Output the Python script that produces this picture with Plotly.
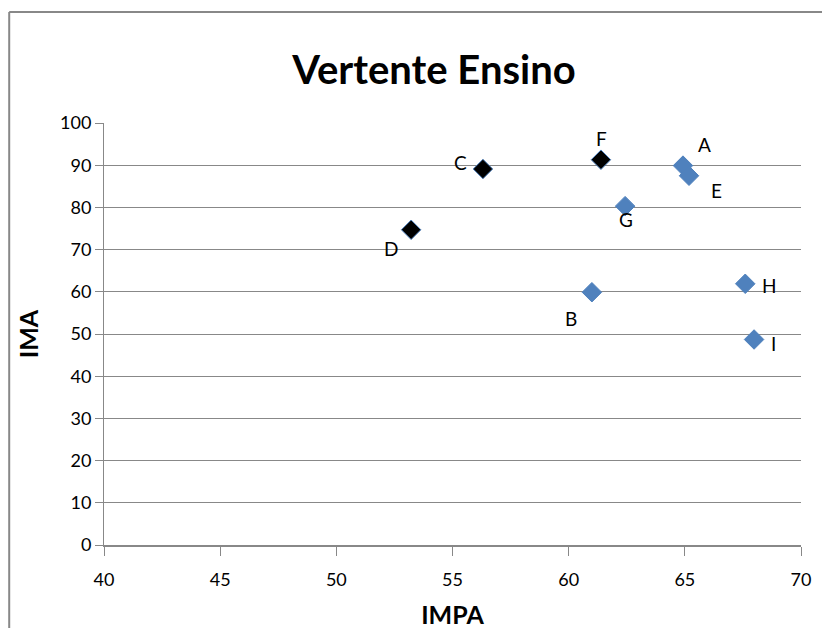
import plotly.graph_objects as go

names = ["A", "B", "C", "D", "E", "F", "G", "H", "I"]
impa = [64.92, 61.0, 56.31, 53.22, 65.18, 61.39, 62.43, 67.6, 67.98]
ima = [89.9, 59.9, 89.1, 74.7, 87.5, 91.3, 80.3, 61.9, 48.7]
highlight = [False, False, True, True, False, True, False, False, False]

# label pixel offsets (style): right, down
label_dx = [22, -21, -22, -20, 27, 1, 1, 24, 19]
label_dy = [-21, 26, -7, 19, 15, -21, 13, 2, 4]

blue = "#4F81BD"
colors = ["#000000" if h else blue for h in highlight]
FONT = "Lato, Open Sans"
tick_font = dict(family=FONT, size=18, color="#000000")

fig = go.Figure()
fig.add_trace(go.Scatter(
    x=impa, y=ima, mode="markers",
    marker=dict(symbol="diamond", size=15, color=colors,
                line=dict(color=blue, width=1)),
    showlegend=False, hoverinfo="skip",
))

for n, xv, yv, dx, dy in zip(names, impa, ima, label_dx, label_dy):
    fig.add_annotation(x=xv, y=yv, text=n, showarrow=False,
                       xshift=dx, yshift=-dy,
                       font=dict(family=FONT, size=19, color="#000000"))

fig.update_layout(
    width=830, height=628,
    margin=dict(l=96, r=37, t=115, b=91),
    paper_bgcolor="white", plot_bgcolor="white",
    title=dict(text="<b>Vertente Ensino</b>", xref="paper", x=0.4735, xanchor="center",
               y=0.901, yanchor="middle",
               font=dict(family=FONT, size=40, color="#000000")),
    xaxis=dict(range=[40, 70], dtick=5, showgrid=False, zeroline=False,
               showline=True, linecolor="#888888", linewidth=2,
               ticks="outside", ticklen=9, tickcolor="#888888",
               ticklabelstandoff=8,
               tickfont=tick_font,
               title=dict(text="<b>IMPA</b>", standoff=18,
                          font=dict(family=FONT, size=25, color="#000000"))),
    yaxis=dict(range=[0, 100], dtick=10, showgrid=True, gridcolor="#888888",
               gridwidth=1, zeroline=False,
               showline=True, linecolor="#888888", linewidth=1,
               ticks="outside", ticklen=8, tickcolor="#888888",
               tickfont=tick_font,
               title=dict(text="<b>IMA</b>", standoff=14,
                          font=dict(family=FONT, size=25, color="#000000"))),
)

# outer chart frame (left and top edges visible)
fig.add_shape(type="line", xref="paper", yref="paper",
              x0=-0.136, x1=-0.136, y0=-0.3, y1=1.263,
              line=dict(color="#888888", width=2))
fig.add_shape(type="line", xref="paper", yref="paper",
              x0=-0.136, x1=1.1, y0=1.263, y1=1.263,
              line=dict(color="#888888", width=2))

fig.write_html("out.html")
